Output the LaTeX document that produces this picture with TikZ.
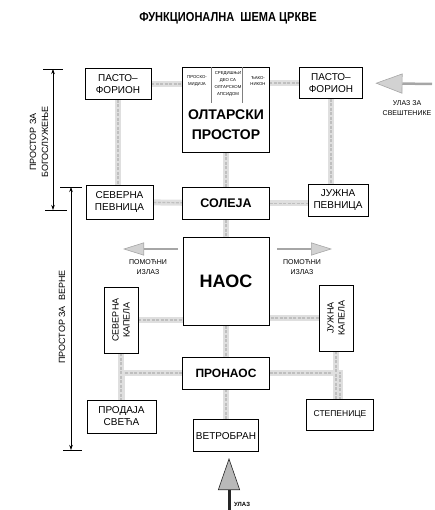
\documentclass[tikz,border=0pt]{standalone}
\usepackage{fontspec}
\setmainfont{Liberation Sans}
\usetikzlibrary{arrows.meta, positioning, backgrounds}

\begin{document}
\begin{tikzpicture}[x=1pt, y=-1pt, >={Stealth[length=5pt, width=3.5pt]},
		room/.style={draw, line width=0.8pt, fill=white, inner sep=1pt, align=center, font=\fontsize{10}{12}\selectfont},
		mainroom/.style={room, font=\bfseries\fontsize{12.5}{14}\selectfont},
		part/.style={align=center, inner sep=0pt, font=\fontsize{4.3}{6.8}\selectfont},
		note/.style={align=center, inner sep=0pt, font=\fontsize{7}{10}\selectfont},
		link/.style={line width=6pt, draw=gray!25, postaction={draw=gray!50, line width=1.2pt, dash pattern=on 3pt off 1.5pt}},
		exit/.style={line width=2.5pt, draw=gray!70, -{Triangle[length=21pt, width=13pt, line width=0.6pt, fill=gray!35]}},
		entry/.style={line width=3pt, draw=black!85, -{Triangle[length=32pt, width=22pt, line width=0.6pt, fill=gray!55]}},
		measure/.style={<->, line width=0.6pt},
		dimtick/.style={line width=0.8pt}]
		
		\useasboundingbox (0,0) rectangle (434,510);
		
		\node[font=\bfseries\fontsize{13}{15}\selectfont] (title) at (228,18) {\scalebox{0.85}[1]{ФУНКЦИОНАЛНА\ \ ШЕМА\ ЦРКВЕ}};
		
		\node[room, minimum width=66pt, minimum height=31pt] (lpasto) at (118,84) {ПАСТО–\\ФОРИОН};
		\node[room, minimum width=87pt, minimum height=85pt] (altar) at (226,110) {};
		\node[room, minimum width=63pt, minimum height=31pt] (dpasto) at (331,83) {ПАСТО–\\ФОРИОН};
		\node[align=center, font=\bfseries\fontsize{14}{20}\selectfont] (altarlbl) at (226,125) {ОЛТАРСКИ\\ПРОСТОР};
		\node[part] (proskom) at (197,81) {ПРОСКО-\\МИДИЈА};
		\node[part] (apse) at (228,84) {СРЕДИШЊИ\\ДЕО СА\\ОЛТАРСКОМ\\АПСИДОМ};
		\node[part] (deacon) at (258,81) {ЂАКО-\\НИКОН};
		\draw[gray, line width=0.4pt] ([xshift=29.5pt]altar.north west) -- ([xshift=29.5pt, yshift=-36pt]altar.north west);
		\draw[gray, line width=0.4pt] ([xshift=60.5pt]altar.north west) -- ([xshift=60.5pt, yshift=-36pt]altar.north west);
		
		\node[mainroom, minimum width=87pt, minimum height=32pt, below=34pt of altar] (solea) {СОЛЕЈА};
		\node[room, minimum width=67pt, minimum height=34pt] (spevnica) at (119.5,202) {СЕВЕРНА\\ПЕВНИЦА};
		\node[room, minimum width=60pt, minimum height=32pt] (jpevnica) at (338,200) {ЈУЖНА\\ПЕВНИЦА};
		
		\node[room, minimum width=86pt, minimum height=88pt, below=17pt of solea, font=\bfseries\fontsize{18}{20}\selectfont] (naos) {НАОС};
		\node[room, rotate=90, minimum width=66pt, minimum height=34pt, font=\fontsize{9}{11}\selectfont] (skapela) at (121,320) {СЕВЕРНА\\КАПЕЛА};
		\node[room, rotate=90, minimum width=66pt, minimum height=34pt, font=\fontsize{9}{11}\selectfont] (jkapela) at (336,318) {ЈУЖНА\\КАПЕЛА};
		
		\node[mainroom, minimum width=87pt, minimum height=32pt, below=31pt of naos, font=\bfseries\fontsize{12}{14}\selectfont] (pronaos) {ПРОНАОС};
		\node[room, minimum width=65pt, minimum height=32pt, below=30pt of pronaos] (vetrobran) {ВЕТРОБРАН};
		\node[room, minimum width=69pt, minimum height=33pt] (prodaja) at (121.5,416.5) {ПРОДАЈА\\СВЕЋА};
		\node[room, minimum width=67pt, minimum height=31pt, font=\fontsize{8.5}{10}\selectfont] (stepenice) at (340,414.5) {СТЕПЕНИЦЕ};
		
		\begin{scope}[on background layer]
			\draw[link] (lpasto) -- (lpasto -| altar);
			\draw[link] (dpasto) -- (dpasto -| altar);
			\draw[link] (lpasto) -- (lpasto |- spevnica);
			\draw[link] (dpasto) -- (dpasto |- jpevnica);
			\draw[link] (altar) -- (solea);
			\draw[link] (spevnica) -- (solea);
			\draw[link] (solea) -- (solea -| jpevnica);
			\draw[link] (solea) -- (naos);
			\draw[link] (skapela) -- (skapela -| naos);
			\draw[link] (jkapela) -- (jkapela -| naos);
			\draw[link] (naos) -- (pronaos);
			\draw[link] (pronaos) -| (prodaja);
			\draw[link] (skapela) -- (skapela |- prodaja);
			\draw[link] (pronaos) -| (stepenice);
			\draw[link] (jkapela) -- (jkapela |- stepenice);
			\draw[link] (pronaos) -- (vetrobran);
		\end{scope}
		
		\coordinate (clergy) at (432,84);
		\coordinate (nfrom) at (178,249);
		\coordinate (nexit) at (123,249);
		\coordinate (sfrom) at (277,249);
		\coordinate (sexit) at (332,249);
		\coordinate (door) at (229,512);
		\coordinate (doortip) at (229,458);
		
		\draw[exit, -{Triangle[length=27pt, width=20pt, line width=0.6pt, fill=gray!35]}, shorten >=12.5pt] (clergy) -- (dpasto.east);
		\draw[exit] (nfrom) -- (nexit);
		\draw[exit] (sfrom) -- (sexit);
		\draw[entry] (door) -- (doortip);
		
		\node[note] (clergylbl) at (407,108) {УЛАЗ ЗА\\СВЕШТЕНИКЕ};
		\node[note] (nexitlbl) at (148,267) {ПОМОЋНИ\\ИЗЛАЗ};
		\node[note] (sexitlbl) at (302,267) {ПОМОЋНИ\\ИЗЛАЗ};
		\node[anchor=west, inner sep=0pt, font=\bfseries\fontsize{6}{7}\selectfont] (doorlbl) at (234,504) {УЛАЗ};
		
		\coordinate (wtop) at (53,69);
		\coordinate (wbot) at (53,210);
		\coordinate (ftop) at (71,187);
		\coordinate (fbot) at (71,450);
		\draw[measure] (wtop) -- (wbot);
		\draw[measure] (ftop) -- (fbot);
		\draw[dimtick] ([xshift=-10pt]wtop) -- ([xshift=10pt]wtop);
		\draw[dimtick] ([xshift=-8pt]wbot) -- ([xshift=14pt]wbot);
		\draw[dimtick] ([xshift=-11pt]ftop) -- ([xshift=11pt]ftop);
		\draw[dimtick] ([xshift=-8pt]fbot) -- ([xshift=11pt]fbot);
		\node[rotate=90, align=center, font=\fontsize{9}{12}\selectfont] (worship) at (39,142) {ПРОСТОР ЗА\\БОГОСЛУЖЕЊЕ};
		\node[rotate=90, font=\fontsize{9}{12}\selectfont] (faithful) at (62,317) {ПРОСТОР ЗА\ \ ВЕРНЕ};
	\end{tikzpicture}
\end{document}
